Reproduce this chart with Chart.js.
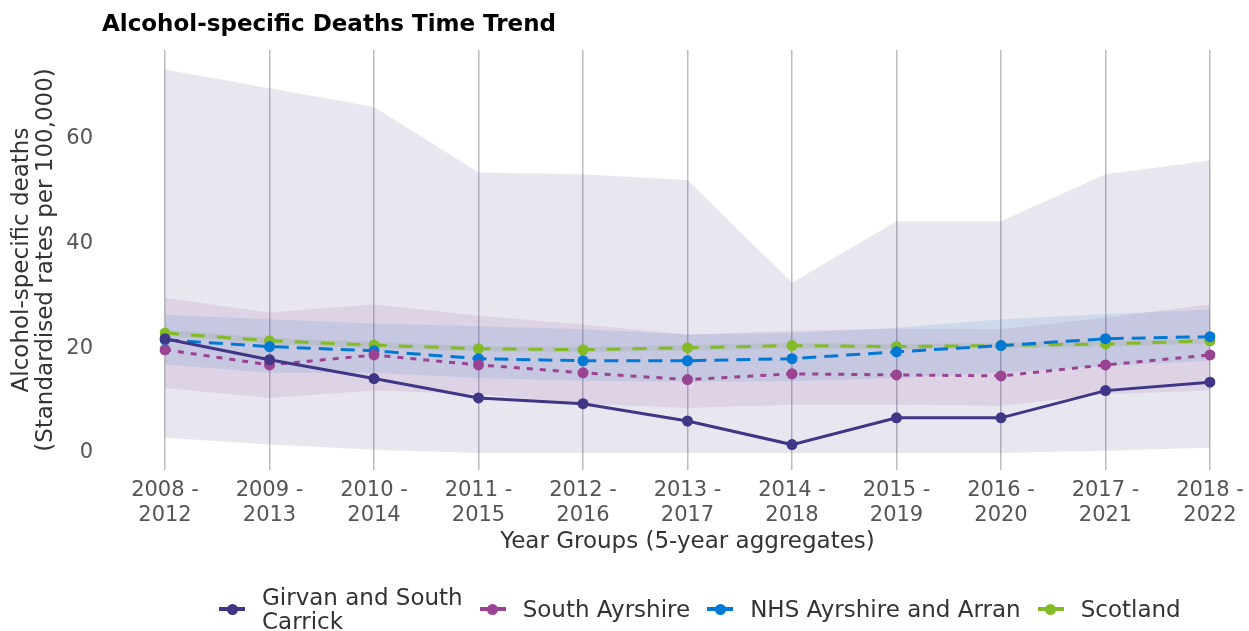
<!DOCTYPE html>
<html lang="en">
  <head>
    <meta charset="UTF-8" />
    <title>Alcohol-specific Deaths Time Trend</title>
    <script src="https://cdn.jsdelivr.net/npm/chart.js"></script>
    <style>
      body { margin: 0; background: #fff; font-family: "DejaVu Sans", sans-serif; }
      .wrap { position: relative; width: 1249px; height: 631px; overflow: hidden; }
      .titulo { position: absolute; left: 102px; top: 9px; font-weight: bold; font-size: 23px; color: #000; line-height: 28px; }
      .legenda { position: absolute; left: 219px; top: 585px; display: flex; align-items: center; font-size: 23px; color: #333; line-height: 24px; }
      .item { display: flex; align-items: center; margin-right: 17px; }
      .marca { position: relative; width: 26px; height: 4px; margin-right: 17px; }
      .marca span { position: absolute; top: -3.5px; left: 7.5px; width: 11px; height: 11px; border-radius: 50%; }
    </style>
  </head>
  <body>
    <div class="wrap">
      <canvas id="grafico"></canvas>
      <div class="titulo">Alcohol-specific Deaths Time Trend</div>
      <div class="legenda" id="legenda"></div>
    </div>

    <script>
      // anos (grupos de 5 anos)
      const labels = [
        ["2008 -", "2012"], ["2009 -", "2013"], ["2010 -", "2014"], ["2011 -", "2015"],
        ["2012 -", "2016"], ["2013 -", "2017"], ["2014 -", "2018"], ["2015 -", "2019"],
        ["2016 -", "2020"], ["2017 -", "2021"], ["2018 -", "2022"]
      ];
      const yTicks = [0, 20, 40, 60];

      const girvan = [21.8, 17.8, 14.2, 10.5, 9.4, 6.1, 1.6, 6.7, 6.7, 11.9, 13.5];
      const girvanUpper = [73.2, 69.6, 66.0, 53.5, 53.2, 52.1, 32.5, 44.2, 44.2, 53.2, 55.8];
      const girvanLower = [2.9, 1.6, 0.6, 0, 0, 0, 0, 0, 0, 0.4, 1.0];

      const southAyrshire = [19.7, 16.8, 18.7, 16.8, 15.3, 14.0, 15.1, 14.9, 14.7, 16.8, 18.7];
      const southUpper = [29.6, 26.8, 28.4, 26.2, 24.5, 22.6, 23.3, 23.7, 23.6, 25.8, 28.4];
      const southLower = [12.4, 10.5, 11.9, 11.2, 9.4, 8.6, 9.2, 9.2, 9.0, 11.2, 11.9];

      const nhs = [21.6, 20.3, 19.5, 18.0, 17.6, 17.6, 18.0, 19.3, 20.5, 21.8, 22.2];
      const nhsUpper = [26.4, 25.5, 24.7, 24.2, 23.6, 22.6, 22.9, 23.9, 25.5, 26.5, 27.4];
      const nhsLower = [16.9, 15.3, 15.3, 14.3, 13.8, 13.6, 13.7, 14.3, 15.3, 16.6, 17.6];

      const scotland = [22.9, 21.4, 20.6, 19.9, 19.7, 20.1, 20.5, 20.3, 20.5, 20.8, 21.4];
      const scotlandUpper = [23.5, 22.0, 21.2, 20.4, 20.2, 20.6, 21.0, 20.8, 21.0, 21.3, 21.9];
      const scotlandLower = [22.3, 20.8, 20.0, 19.4, 19.2, 19.6, 20.0, 19.8, 20.0, 20.3, 20.9];

      const series = [
        { nome: "Girvan and South Carrick", legenda: "Girvan and South<br>Carrick", cor: "#3F3685", dash: [], dados: girvan },
        { nome: "South Ayrshire", legenda: "South Ayrshire", cor: "#9B4393", dash: [6, 7], dados: southAyrshire },
        { nome: "NHS Ayrshire and Arran", legenda: "NHS Ayrshire and Arran", cor: "#0078D4", dash: [14, 8], dados: nhs },
        { nome: "Scotland", legenda: "Scotland", cor: "#83BB26", dash: [14, 12], dados: scotland }
      ];

      const faixas = [
        { sup: girvanUpper, inf: girvanLower, cor: "rgba(63, 54, 133, 0.12)" },
        { sup: southUpper, inf: southLower, cor: "rgba(155, 67, 147, 0.12)" },
        { sup: nhsUpper, inf: nhsLower, cor: "rgba(0, 120, 212, 0.12)" },
        { sup: scotlandUpper, inf: scotlandLower, cor: "rgba(131, 187, 38, 0.15)" }
      ];

      let datasets = [];
      series.forEach(function (s) {
        datasets.push({
          label: s.nome,
          data: s.dados,
          borderColor: s.cor,
          backgroundColor: s.cor,
          borderWidth: 3,
          borderDash: s.dash,
          pointRadius: 5.5,
          pointBorderWidth: 0,
          fill: false,
          tension: 0
        });
      });
      // faixas de confianca (ficam por baixo)
      faixas.forEach(function (f) {
        datasets.push({
          data: f.sup,
          borderWidth: 0,
          pointRadius: 0,
          backgroundColor: f.cor,
          fill: "+1"
        });
        datasets.push({
          data: f.inf,
          borderWidth: 0,
          pointRadius: 0,
          fill: false
        });
      });

      const fonteTicks = { family: "DejaVu Sans", size: 21, lineHeight: 1.2 };
      const fonteTitulo = { family: "DejaVu Sans", size: 23, lineHeight: 1.05 };

      new Chart(document.getElementById("grafico"), {
        type: "line",
        data: { labels: labels, datasets: datasets },
        options: {
          responsive: true,
          maintainAspectRatio: false,
          animation: false,
          layout: { padding: { top: 50, right: 39, bottom: 71, left: 0 } },
          plugins: { legend: { display: false }, tooltip: { enabled: false } },
          scales: {
            x: {
              grid: { color: "rgba(120, 120, 135, 0.5)", lineWidth: 1.5, drawTicks: false },
              border: { display: false },
              ticks: { color: "#555", font: fonteTicks, padding: 8, maxRotation: 0, autoSkip: false },
              title: { display: true, text: "Year Groups (5-year aggregates)", color: "#333", font: { family: "DejaVu Sans", size: 23, lineHeight: 1.2 }, padding: { top: 0, bottom: 4 } },
              afterFit: function (scale) {
                scale.height = 90;
                scale.paddingLeft = 0;
                scale.paddingRight = 0;
              }
            },
            y: {
              min: -3.25,
              max: 76.9,
              grid: { display: false, drawTicks: false },
              border: { display: false },
              afterBuildTicks: function (scale) {
                scale.ticks = yTicks.map(function (v) { return { value: v }; });
              },
              ticks: { color: "#555", font: fonteTicks, padding: 72 },
              title: {
                display: true,
                text: ["Alcohol-specific deaths", "(Standardised rates per 100,000)"],
                color: "#333",
                font: fonteTitulo,
                padding: { top: 10, bottom: 0 }
              },
              afterFit: function (scale) {
                scale.width = 165;
                // o padding grande dos ticks nao deve empurrar a area do grafico
                scale.paddingTop = 10;
                scale.paddingBottom = 10;
              }
            }
          }
        }
      });

      // legenda em html
      const leg = document.getElementById("legenda");
      series.forEach(function (s) {
        leg.innerHTML += `
          <div class="item">
            <div class="marca" style="background:${s.cor}"><span style="background:${s.cor}"></span></div>
            <div>${s.legenda}</div>
          </div>`;
      });
    </script>
  </body>
</html>
